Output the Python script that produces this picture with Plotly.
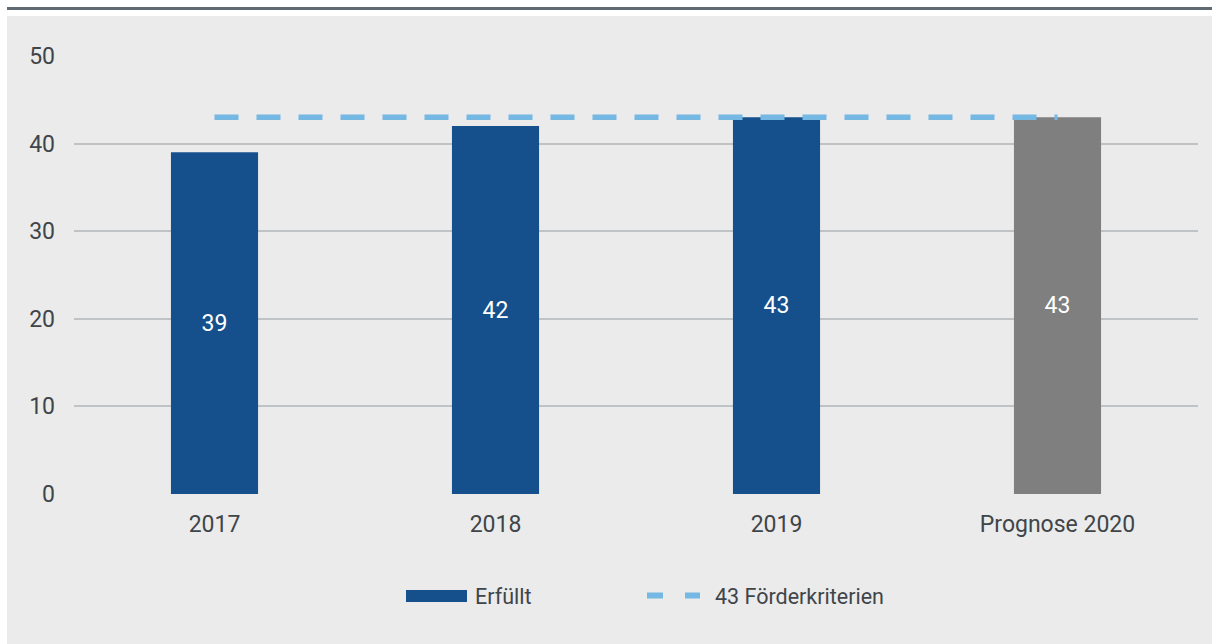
import plotly.graph_objects as go

categories = ["2017", "2018", "2019", "Prognose 2020"]
erfuellt = [39, 42, 43, 43]
bar_colors = ["#15508c", "#15508c", "#15508c", "#7f7f7f"]
kriterien = [43, 43, 43, 43]
y_ticks = [0, 10, 20, 30, 40, 50]

FONT = "Roboto"
TXT = "#3f4549"
W, H = 1212, 644
L, R, T, B = 74, 14, 56, 150
pw, ph = W - L - R, H - T - B

def px_x(x):
    return (x - L) / pw

def px_y(y):
    return (H - B - y) / ph

fig = go.Figure()
fig.add_trace(go.Bar(
    x=categories, y=erfuellt, marker=dict(color=bar_colors, line=dict(width=0)),
    text=[str(v) for v in erfuellt], textposition="inside", insidetextanchor="middle",
    textfont=dict(family=FONT, size=23, color="white"), name="Erfüllt",
    showlegend=False, hoverinfo="skip",
))
fig.add_trace(go.Scatter(
    x=categories, y=kriterien, mode="lines", name="43 Förderkriterien",
    line=dict(color="#74b8e3", width=5.5, dash="24px,18px"),
    showlegend=False, hoverinfo="skip",
))

shapes = [
    dict(type="rect", xref="paper", yref="paper", x0=px_x(-10), x1=px_x(7), y0=px_y(-10), y1=px_y(H + 10),
         fillcolor="white", line=dict(width=0), layer="below"),
    dict(type="rect", xref="paper", yref="paper", x0=px_x(-10), x1=px_x(W + 10), y0=px_y(16), y1=px_y(-10),
         fillcolor="white", line=dict(width=0), layer="below"),
    dict(type="line", xref="paper", yref="paper", x0=px_x(7), x1=px_x(W + 10), y0=px_y(8.5), y1=px_y(8.5),
         line=dict(color="#5f6a72", width=3), layer="below"),
    # legend swatches
    dict(type="rect", xref="paper", yref="paper", x0=px_x(406), x1=px_x(467), y0=px_y(602), y1=px_y(590),
         fillcolor="#15508c", line=dict(width=0)),
    dict(type="line", xref="paper", yref="paper", x0=px_x(647), x1=px_x(663), y0=px_y(595.5), y1=px_y(595.5),
         line=dict(color="#74b8e3", width=6)),
    dict(type="line", xref="paper", yref="paper", x0=px_x(685), x1=px_x(700), y0=px_y(595.5), y1=px_y(595.5),
         line=dict(color="#74b8e3", width=6)),
]
annotations = [
    dict(text="Erfüllt", xref="paper", yref="paper", x=px_x(473), y=px_y(596), xanchor="left", yanchor="middle",
         showarrow=False, font=dict(family=FONT, size=21.5, color=TXT)),
    dict(text="43 Förderkriterien", xref="paper", yref="paper", x=px_x(713), y=px_y(596), xanchor="left",
         yanchor="middle", showarrow=False, font=dict(family=FONT, size=21.5, color=TXT)),
]

fig.update_layout(
    width=W, height=H, margin=dict(l=L, r=R, t=T, b=B),
    paper_bgcolor="#ebebeb", plot_bgcolor="#ebebeb",
    bargap=0.69, shapes=shapes, annotations=annotations,
    font=dict(family=FONT, size=23, color=TXT),
    xaxis=dict(showgrid=False, showline=False, zeroline=False, ticks="", ticklabelstandoff=14,
               tickfont=dict(family=FONT, size=23, color=TXT)),
    yaxis=dict(range=[0, 50], tickvals=y_ticks, showgrid=True, gridcolor="#bfc3c6", gridwidth=1.5,
               zeroline=False, showline=False, ticks="", ticklabelstandoff=18,
               tickfont=dict(family=FONT, size=23, color=TXT)),
)
fig.write_html("out.html", config={"displayModeBar": False},
               post_script="document.body.style.margin='0';document.body.style.overflow='hidden';")
